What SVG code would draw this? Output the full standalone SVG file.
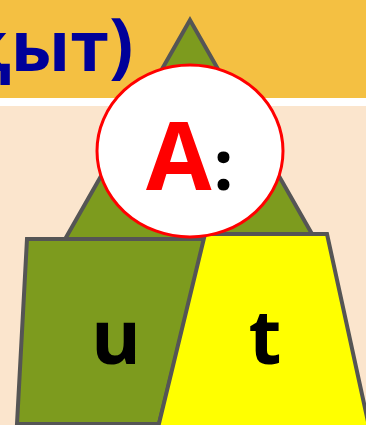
<svg xmlns="http://www.w3.org/2000/svg" width="366" height="425" viewBox="0 0 366 425">
<style>
.shape{stroke:#555555;stroke-width:4;stroke-linejoin:miter}
.lbl{font-family:"Open Sans","DejaVu Sans",sans-serif;font-weight:bold}
</style>
<rect x="0" y="0" width="366" height="425" fill="#FBE5CD"/>
<rect x="0" y="0" width="366" height="98" fill="#F4C042"/>
<rect x="0" y="98" width="366" height="8" fill="#FFFFFF"/>
<g id="title">
<text class="lbl" x="109" y="71" text-anchor="end" font-size="70" fill="#000099">қыт</text>
<text class="lbl" x="109" y="70" font-size="72" fill="#000099">)</text>
</g>
<g id="triangle">
<polygon class="shape" points="190,20 64,241 316,241" fill="#7D9B1E" stroke="#4D4D4D"/>
</g>
<g id="node-u">
<polygon class="shape" points="27,239 205,239 159,424 17,424" fill="#7D9B1E"/>
<text class="lbl" x="116" y="364" text-anchor="middle" font-size="76" fill="#000000">u</text>
</g>
<g id="node-t">
<polygon class="shape" points="205,234 327,234 372,440 155,440" fill="#FFFF00"/>
<text class="lbl" x="265" y="364" text-anchor="middle" font-size="76" fill="#000000">t</text>
</g>
<g id="node-A">
<ellipse cx="190" cy="151" rx="93" ry="86" fill="#FFFFFF" stroke="#FF0000" stroke-width="3"/>
<text class="lbl" x="146" y="190" font-size="95" fill="#FF0000">A<tspan fill="#000000" font-size="70" dx="2">:</tspan></text>
</g>
</svg>
